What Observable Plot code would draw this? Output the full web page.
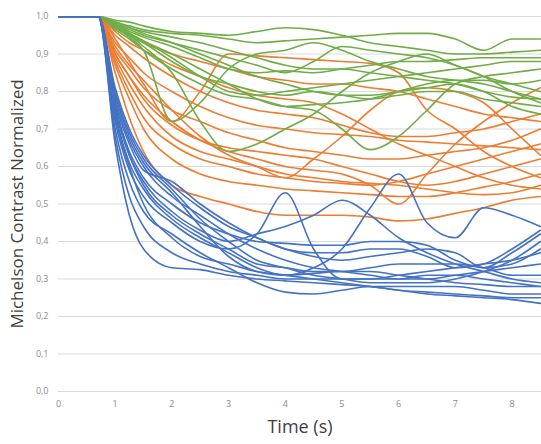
<!DOCTYPE html>
<html><head><meta charset="utf-8">
<script src="https://cdn.jsdelivr.net/npm/d3@7"></script>
<script src="https://cdn.jsdelivr.net/npm/@observablehq/plot@0.6"></script>
<style>
html,body{margin:0;padding:0;background:#fff;}
#chart{width:541px;height:444px;}
</style></head>
<body><div id="chart"></div>
<script>
const times = [0, 0.7, 1, 1.25, 1.5, 2, 2.5, 3, 3.5, 4, 4.5, 5, 5.5, 6, 6.5, 7, 7.5, 8, 8.5];
const xTicks = [0, 1, 2, 3, 4, 5, 6, 7, 8];
const yTicks = [0, 0.1, 0.2, 0.3, 0.4, 0.5, 0.6, 0.7, 0.8, 0.9, 1.0];
const groups = ["Group A", "Group B", "Group C"];
const groupColors = ["#ED7D31", "#70AD47", "#4472C4"];

const orangeSeries = [
  [1,1,0.85,0.73,0.64,0.55,0.52,0.50,0.48,0.47,0.47,0.47,0.465,0.455,0.46,0.475,0.49,0.51,0.52],
  [1,1,0.92,0.87,0.83,0.75,0.68,0.63,0.60,0.57,0.62,0.68,0.75,0.80,0.81,0.80,0.77,0.70,0.63],
  [1,1,0.90,0.84,0.79,0.72,0.67,0.64,0.62,0.60,0.59,0.58,0.55,0.50,0.58,0.66,0.72,0.77,0.81],
  [1,1,0.94,0.88,0.82,0.72,0.80,0.90,0.895,0.89,0.885,0.88,0.875,0.85,0.75,0.70,0.64,0.60,0.57],
  [1,1,0.95,0.92,0.89,0.84,0.80,0.77,0.75,0.74,0.73,0.71,0.69,0.68,0.68,0.69,0.70,0.72,0.74],
  [1,1,0.93,0.89,0.85,0.80,0.76,0.73,0.71,0.70,0.69,0.685,0.68,0.67,0.665,0.66,0.655,0.65,0.645],
  [1,1,0.91,0.86,0.81,0.75,0.72,0.69,0.67,0.65,0.64,0.63,0.62,0.62,0.63,0.64,0.65,0.67,0.70],
  [1,1,0.90,0.84,0.78,0.71,0.67,0.65,0.64,0.63,0.62,0.60,0.58,0.56,0.55,0.56,0.58,0.60,0.62],
  [1,1,0.89,0.82,0.76,0.68,0.64,0.62,0.60,0.58,0.57,0.56,0.555,0.55,0.54,0.53,0.525,0.53,0.55],
  [1,1,0.88,0.80,0.73,0.66,0.62,0.60,0.58,0.57,0.56,0.555,0.55,0.56,0.58,0.60,0.62,0.64,0.66],
  [1,1,0.96,0.93,0.91,0.87,0.84,0.81,0.79,0.78,0.77,0.74,0.70,0.66,0.63,0.60,0.57,0.55,0.54],
  [1,1,0.97,0.95,0.93,0.90,0.88,0.86,0.84,0.83,0.82,0.82,0.81,0.80,0.78,0.76,0.74,0.73,0.72],
  [1,1,0.87,0.78,0.70,0.62,0.58,0.56,0.55,0.54,0.535,0.53,0.525,0.52,0.52,0.53,0.545,0.56,0.58]
];

const greenSeries = [
  [1,1,0.99,0.985,0.975,0.96,0.955,0.95,0.96,0.97,0.965,0.95,0.93,0.92,0.91,0.90,0.90,0.905,0.91],
  [1,1,0.985,0.975,0.965,0.955,0.95,0.94,0.93,0.935,0.94,0.945,0.95,0.955,0.955,0.94,0.91,0.94,0.94],
  [1,1,0.98,0.965,0.95,0.93,0.91,0.89,0.87,0.85,0.88,0.92,0.91,0.90,0.89,0.87,0.84,0.82,0.80],
  [1,1,0.975,0.955,0.935,0.89,0.84,0.80,0.79,0.80,0.81,0.82,0.83,0.84,0.85,0.86,0.87,0.88,0.88],
  [1,1,0.97,0.95,0.92,0.85,0.72,0.64,0.66,0.70,0.74,0.80,0.85,0.88,0.90,0.87,0.84,0.80,0.77],
  [1,1,0.97,0.945,0.91,0.72,0.77,0.86,0.90,0.91,0.93,0.91,0.88,0.86,0.84,0.83,0.82,0.80,0.78],
  [1,1,0.965,0.94,0.91,0.86,0.82,0.79,0.78,0.76,0.75,0.70,0.645,0.68,0.75,0.82,0.84,0.85,0.86],
  [1,1,0.97,0.95,0.93,0.88,0.84,0.82,0.80,0.79,0.80,0.79,0.78,0.79,0.80,0.80,0.78,0.77,0.76],
  [1,1,0.98,0.96,0.945,0.92,0.89,0.86,0.85,0.855,0.85,0.86,0.87,0.88,0.88,0.885,0.89,0.89,0.89],
  [1,1,0.975,0.955,0.935,0.90,0.86,0.82,0.78,0.76,0.765,0.77,0.78,0.80,0.82,0.83,0.83,0.82,0.83],
  [1,1,0.98,0.97,0.955,0.93,0.90,0.87,0.84,0.82,0.80,0.79,0.79,0.80,0.81,0.82,0.80,0.76,0.74],
  [1,1,0.985,0.97,0.96,0.945,0.93,0.91,0.89,0.87,0.86,0.86,0.85,0.84,0.83,0.82,0.80,0.785,0.78]
];

const blueSeries = [
  [1,1,0.66,0.47,0.38,0.33,0.325,0.31,0.30,0.295,0.29,0.285,0.28,0.27,0.26,0.255,0.25,0.245,0.235],
  [1,1,0.68,0.52,0.44,0.37,0.34,0.32,0.31,0.30,0.30,0.30,0.30,0.30,0.31,0.31,0.30,0.29,0.28],
  [1,1,0.70,0.56,0.48,0.42,0.37,0.33,0.29,0.265,0.26,0.27,0.28,0.28,0.28,0.28,0.27,0.26,0.26],
  [1,1,0.72,0.59,0.52,0.45,0.40,0.38,0.42,0.53,0.38,0.30,0.30,0.31,0.32,0.33,0.34,0.35,0.37],
  [1,1,0.74,0.61,0.54,0.46,0.41,0.37,0.33,0.31,0.33,0.38,0.49,0.58,0.45,0.41,0.49,0.47,0.44],
  [1,1,0.75,0.63,0.56,0.48,0.43,0.40,0.42,0.44,0.47,0.51,0.47,0.41,0.37,0.34,0.32,0.30,0.29],
  [1,1,0.76,0.64,0.57,0.50,0.45,0.42,0.40,0.395,0.39,0.39,0.40,0.40,0.39,0.35,0.33,0.37,0.42],
  [1,1,0.77,0.66,0.59,0.56,0.50,0.45,0.41,0.38,0.37,0.37,0.38,0.38,0.36,0.33,0.34,0.38,0.43],
  [1,1,0.78,0.67,0.60,0.52,0.47,0.42,0.38,0.35,0.33,0.32,0.31,0.30,0.30,0.31,0.32,0.33,0.34],
  [1,1,0.79,0.68,0.61,0.53,0.44,0.36,0.32,0.31,0.315,0.32,0.32,0.31,0.30,0.29,0.285,0.28,0.28],
  [1,1,0.80,0.69,0.62,0.54,0.46,0.40,0.35,0.33,0.31,0.30,0.29,0.29,0.29,0.30,0.32,0.35,0.40],
  [1,1,0.81,0.70,0.63,0.55,0.49,0.44,0.41,0.38,0.36,0.35,0.36,0.37,0.38,0.37,0.33,0.34,0.38],
  [1,1,0.76,0.63,0.55,0.47,0.42,0.38,0.34,0.33,0.32,0.32,0.33,0.34,0.34,0.34,0.33,0.31,0.31],
  [1,1,0.73,0.60,0.50,0.41,0.36,0.34,0.32,0.31,0.30,0.29,0.28,0.27,0.265,0.26,0.255,0.25,0.25]
];

const rows = [];
function addGroup(name, series) {
  series.forEach((vals, i) => {
    vals.forEach((v, j) => rows.push({id: name + "-" + i, group: name, t: times[j], v}));
  });
}
addGroup(groups[0], orangeSeries);
addGroup(groups[1], greenSeries);
addGroup(groups[2], blueSeries);

const fmt = d => d.toFixed(1).replace(".", ",");
const font = "'Open Sans', 'Noto Sans', sans-serif";

const chart = Plot.plot({
  width: 541,
  height: 444,
  marginLeft: 58,
  marginRight: 0,
  marginTop: 16,
  marginBottom: 53,
  style: {fontFamily: font, background: "#fff"},
  x: {domain: [0, 8.52]},
  y: {domain: [0, 1]},
  color: {type: "ordinal", domain: groups, range: groupColors},
  marks: [
    Plot.ruleY(yTicks, {stroke: "#d9d9d9", strokeWidth: 1}),
    Plot.axisY(yTicks, {tickSize: 0, tickPadding: 10, tickFormat: fmt, fontSize: 9, fill: "#8c8c8c", label: null}),
    Plot.axisX(xTicks, {tickSize: 0, tickPadding: 9, tickFormat: d => String(d), fontSize: 9, fill: "#8c8c8c", label: null}),
    Plot.line(rows, {x: "t", y: "v", z: "id", stroke: "group", strokeWidth: 1.6, curve: "monotone-x", clip: true}),
    Plot.text(["Time (s)"], {frameAnchor: "bottom", dy: 41, fontSize: 18, fill: "#404040", fontFamily: font}),
    Plot.text(["Michelson Contrast Normalized"], {frameAnchor: "left", rotate: -90, textAnchor: "middle", dx: -41, fontSize: 17, fill: "#404040", fontFamily: font})
  ]
});
document.getElementById("chart").appendChild(chart);
</script>
</body></html>
